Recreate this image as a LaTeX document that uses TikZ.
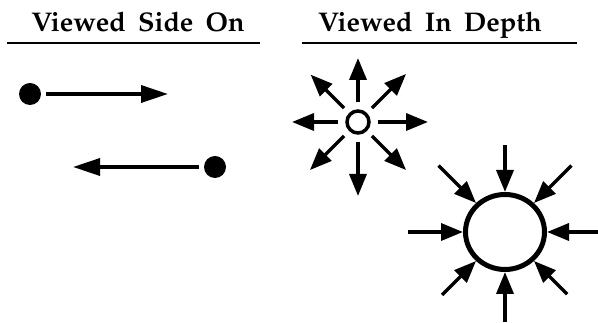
\documentclass[tikz,border=0pt]{standalone}
\usepackage[T1]{fontenc}
\usepackage{mathpazo}
\usetikzlibrary{arrows.meta,positioning,calc,shapes.geometric}

\newcommand{\headfont}{\fontsize{27}{31}\selectfont\bfseries\spaceskip=0.45em\relax}

\begin{document}
\begin{tikzpicture}[
    x=1pt, y=1pt,
    heading/.style={font=\headfont, inner sep=0pt, anchor=base},
    rule/.style={line width=2.5pt},
    ball/.style={circle, fill=black, minimum size=22pt, inner sep=0pt},
    ring/.style={circle, draw, line width=3.5pt, minimum size=22pt, inner sep=0pt},
    bigring/.style={ellipse, draw, line width=5pt, minimum width=79pt, minimum height=75pt, inner sep=0pt},
    arrow/.style={line width=3.5pt, -{Triangle[length=27pt,width=17pt]}},
    spoke/.style={line width=3.5pt, -{Triangle[length=22pt,width=17pt]}}
]
\useasboundingbox (0,0) rectangle (598,323);

% Headings
\node[heading] (sideTitle) at (138,291) {Viewed Side On};
\node[heading] (depthTitle) at (430,291) {Viewed In Depth};
\draw[rule] (7,280) -- (260,280);
\draw[rule] (302,280) -- (577,280);

% Viewed side on
\node[ball] (dotA) at (30,229) {};
\node[ball] (dotB) at (215,156) {};
\coordinate (endA) at (168,229);
\coordinate (endB) at (73,156);
\draw[arrow, shorten <=5pt] (dotA) -- (endA);
\draw[arrow, shorten <=5pt] (dotB) -- (endB);

% Viewed in depth: small ring, arrows out
\node[ring] (ring) at (358,201) {};
\foreach \a/\r in {0/70,45/68,90/64,135/67,180/66,225/68,270/74,315/68}
{
    \coordinate (out\a) at ($(ring)+(\a:\r)$);
    \draw[spoke, shorten <=7pt] (ring.\a) -- (out\a);
}

% Viewed in depth: big ring, arrows in
\node[bigring] (big) at (505,91) {};
\foreach \a/\r in {0/93,45/94,90/87,135/94,180/97,225/89,270/90,315/88}
{
    \coordinate (in\a) at ($(big)+(\a:\r)$);
    \draw[spoke] (in\a) -- (big.\a);
}

\end{tikzpicture}
\end{document}
